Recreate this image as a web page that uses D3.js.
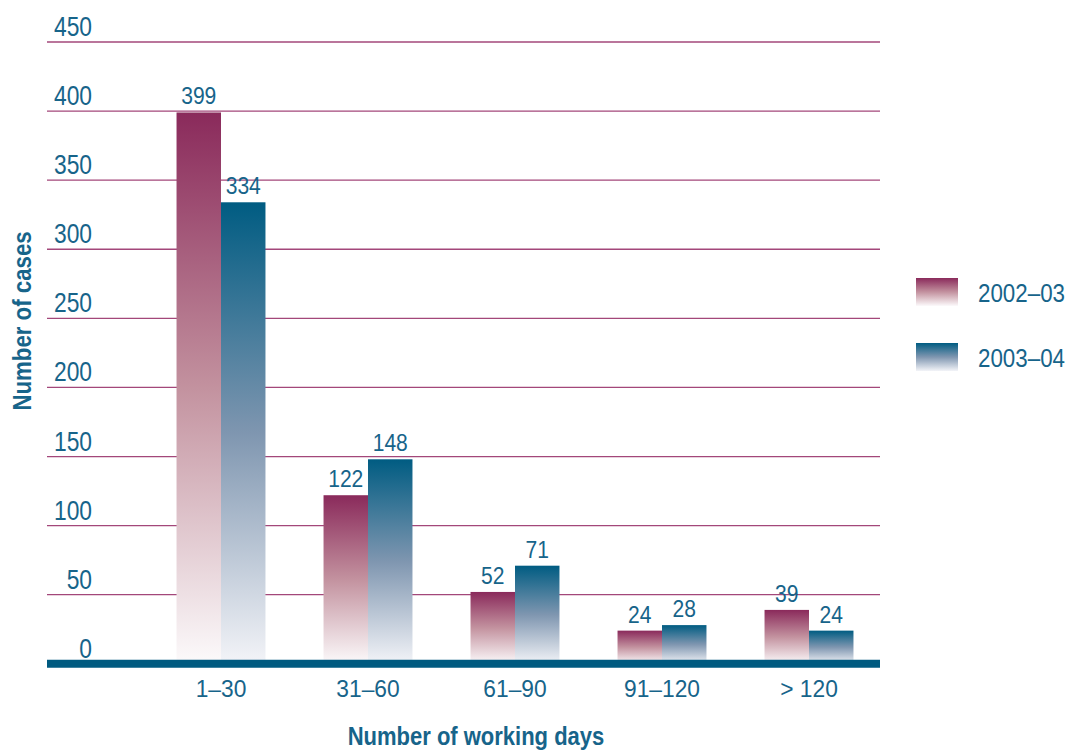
<!DOCTYPE html>
<html>
<head>
<meta charset="utf-8">
<script src="https://cdn.jsdelivr.net/npm/d3@7"></script>
<style>
  html, body { margin: 0; padding: 0; background: #fff; }
  svg { display: block; }
  text { font-family: "Liberation Sans Narrow", "Arial Narrow", "Liberation Sans", sans-serif; fill: #17648a; }
</style>
</head>
<body>
<svg id="chart" width="1071" height="750"></svg>
<script>
const categories = ["1–30", "31–60", "61–90", "91–120", "> 120"];
const seriesNames = ["2002–03", "2003–04"];
const values2002 = [399, 122, 52, 24, 39];
const values2003 = [334, 148, 71, 28, 24];
const yTicks = [0, 50, 100, 150, 200, 250, 300, 350, 400, 450];

const svg = d3.select("#chart");
const defs = svg.append("defs");

// place text at (x,y) with horizontal condensing factor s
function place(sel, xf, yf, s) {
  sel.attr("transform", (d, i) => `translate(${typeof xf === "function" ? xf(d, i) : xf},${typeof yf === "function" ? yf(d, i) : yf}) scale(${s},1)`);
  return sel;
}

const colors = [
  { top: "#8a2a5b", mid: "#c3929f", bottom: "#fcfafb" },
  { top: "#005c82", mid: "#7f96b0", bottom: "#f3f4f8" }
];
colors.forEach((c, i) => {
  const g = defs.append("linearGradient").attr("id", "grad" + i)
    .attr("x1", 0).attr("y1", 0).attr("x2", 0).attr("y2", 1);
  g.append("stop").attr("offset", "0%").attr("stop-color", c.top);
  g.append("stop").attr("offset", "50%").attr("stop-color", c.mid);
  g.append("stop").attr("offset", "100%").attr("stop-color", c.bottom);
});

const plotLeft = 47, plotRight = 880;
const y = d3.scaleLinear().domain([0, 450]).range([663.8, 42]);
const x0 = d3.scaleBand().domain(categories).range([147.5, 882.5])
  .paddingInner(0.395).paddingOuter(0.1975);
const x1 = d3.scaleBand().domain(seriesNames).range([0, x0.bandwidth()]);

// gridlines
svg.append("g").selectAll("line").data(yTicks.filter(d => d > 0)).join("line")
  .attr("x1", plotLeft).attr("x2", plotRight)
  .attr("y1", d => y(d)).attr("y2", d => y(d))
  .attr("stroke", "#a3477a").attr("stroke-width", 1.3);

// tick labels
place(svg.append("g").selectAll("text").data(yTicks).join("text"),
  92, d => y(d) - 6, 0.845)
  .attr("text-anchor", "end")
  .attr("font-size", 27)
  .text(d => d);

// bars
const data = categories.map((c, i) => ({ cat: c, vals: [values2002[i], values2003[i]] }));
const groups = svg.append("g").selectAll("g").data(data).join("g")
  .attr("transform", d => `translate(${x0(d.cat)},0)`);
groups.selectAll("rect").data(d => d.vals.map((v, i) => ({ v, i }))).join("rect")
  .attr("x", d => x1(seriesNames[d.i]))
  .attr("width", x1.bandwidth())
  .attr("y", d => y(d.v))
  .attr("height", d => y(0) - y(d.v))
  .attr("fill", d => `url(#grad${d.i})`);
place(groups.selectAll("text").data(d => d.vals.map((v, i) => ({ v, i }))).join("text"),
  d => x1(seriesNames[d.i]) + x1.bandwidth() / 2, d => y(d.v) - 8, 0.877)
  .attr("text-anchor", "middle")
  .attr("font-size", 24)
  .text(d => d.v);

// thick baseline
svg.append("line")
  .attr("x1", plotLeft).attr("x2", plotRight)
  .attr("y1", y(0)).attr("y2", y(0))
  .attr("stroke", "#005a80").attr("stroke-width", 8);

// category labels
place(svg.append("g").selectAll("text").data(categories).join("text"),
  d => x0(d) + x0.bandwidth() / 2, 697, 0.95)
  .attr("text-anchor", "middle")
  .attr("font-size", 24)
  .text(d => d);

// axis titles
svg.append("text")
  .attr("transform", "translate(476,745) scale(0.88,1)")
  .attr("text-anchor", "middle")
  .attr("font-size", 25).attr("font-weight", "bold")
  .text("Number of working days");
svg.append("text")
  .attr("transform", "translate(31,321) rotate(-90) scale(0.89,1)")
  .attr("text-anchor", "middle")
  .attr("font-size", 25).attr("font-weight", "bold")
  .text("Number of cases");

// legend
const legendY = [278, 343];
const legend = svg.append("g").selectAll("g").data(seriesNames).join("g")
  .attr("transform", (d, i) => `translate(916,${legendY[i]})`);
legend.append("rect").attr("width", 42).attr("height", 28)
  .attr("fill", (d, i) => `url(#grad${i})`);
place(legend.append("text"), 62, 24, 0.86)
  .attr("font-size", 26).text(d => d);
</script>
</body>
</html>
